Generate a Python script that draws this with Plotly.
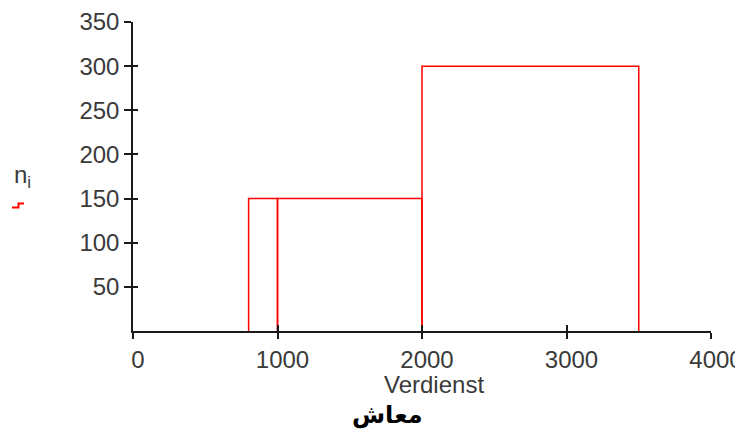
import plotly.graph_objects as go

# Data: class boundaries and frequencies
lower = [800, 1000, 2000]
upper = [1000, 2000, 3500]
n_i = [150, 150, 300]
x_ticks = [0, 1000, 2000, 3000, 4000]
y_ticks = [50, 100, 150, 200, 250, 300, 350]
x_title = "Verdienst"
sub_title = "معاش"
legend_label = "n<sub>i</sub>"

# The page body has an 8px default margin; compensate for it.
OFF = 8
W, H = 743 - OFF, 432 - OFF
PL, PT, PR, PB = 133, 22, 711, 331          # plot box in page pixels
L, T = PL - OFF, PT - OFF
R, B = W - (PR - OFF), H - (PB - OFF)
PW, PH = PR - PL, PB - PT


def px(xp, yp):
    return (xp - PL) / PW, (PB - yp) / PH


FONT = "Liberation Sans, Arial, sans-serif"
AX = "#1a1a1a"
TXT = "#3a3a3a"
FS = 24

fig = go.Figure()
for lo, hi, h in zip(lower, upper, n_i):
    fig.add_trace(go.Scatter(
        x=[lo, lo, hi, hi], y=[0, h, h, 0], mode="lines",
        line=dict(color="#ff0000", width=1.5),
        showlegend=False, hoverinfo="skip"))
fig.add_trace(go.Scatter(x=[None], y=[None], xaxis="x2", yaxis="y2",
                         showlegend=False, hoverinfo="skip"))

common = dict(showgrid=False, zeroline=False, automargin=False)
fig.update_layout(
    width=W, height=H,
    margin=dict(l=L, r=R, t=T, b=B, autoexpand=False),
    paper_bgcolor="white", plot_bgcolor="white",
    font=dict(family=FONT, size=FS, color=TXT),
    xaxis=dict(range=[0, 4000], tickvals=x_ticks, ticktext=[str(v) for v in x_ticks],
               ticks="outside", ticklen=6, tickwidth=1.5, tickcolor=AX,
               showline=True, linecolor=AX, linewidth=1.5, ticklabelshift=5,
               tickfont=dict(size=FS, color=TXT), **common),
    yaxis=dict(range=[0, 350], tickvals=y_ticks, ticktext=[str(v) for v in y_ticks],
               ticks="outside", ticklen=7, tickwidth=1.5, tickcolor=AX,
               showline=True, linecolor=AX, linewidth=1.5,
               tickfont=dict(size=FS, color=TXT), **common),
    xaxis2=dict(overlaying="x", anchor="y2", side="bottom", range=[0, 4000],
                tickvals=x_ticks, ticks="inside", ticklen=6, tickwidth=1.5,
                tickcolor=AX, showticklabels=False, showline=False, **common),
    yaxis2=dict(overlaying="y", anchor="x2", side="left", range=[0, 350],
                tickvals=[0] + y_ticks, ticks="inside", ticklen=5, tickwidth=1.5,
                tickcolor=AX, showticklabels=False, showline=False, **common),
)

ax, ay = px(434, 384)
fig.add_annotation(x=ax, y=ay, xref="paper", yref="paper", text=x_title,
                   showarrow=False, xanchor="center", yanchor="middle",
                   font=dict(family=FONT, size=FS, color=TXT))
ax, ay = px(387, 415)
fig.add_annotation(x=ax, y=ay, xref="paper", yref="paper", text="<b>" + sub_title + "</b>",
                   showarrow=False, xanchor="center", yanchor="middle",
                   font=dict(family="DejaVu Sans, sans-serif", size=24, color="black"))
ax, ay = px(12, 176)
fig.add_annotation(x=ax, y=ay, xref="paper", yref="paper", text=legend_label,
                   showarrow=False, xanchor="left", yanchor="middle",
                   font=dict(family=FONT, size=FS, color=TXT))

pts = [px(12, 207.5), px(18.5, 207.5), px(18.5, 203.5), px(24, 203.5)]
path = "M " + " L ".join(f"{a:.5f},{b:.5f}" for a, b in pts)
fig.add_shape(type="path", path=path, xref="paper", yref="paper",
              line=dict(color="#ff0000", width=2))

fig.write_html("out.html")
